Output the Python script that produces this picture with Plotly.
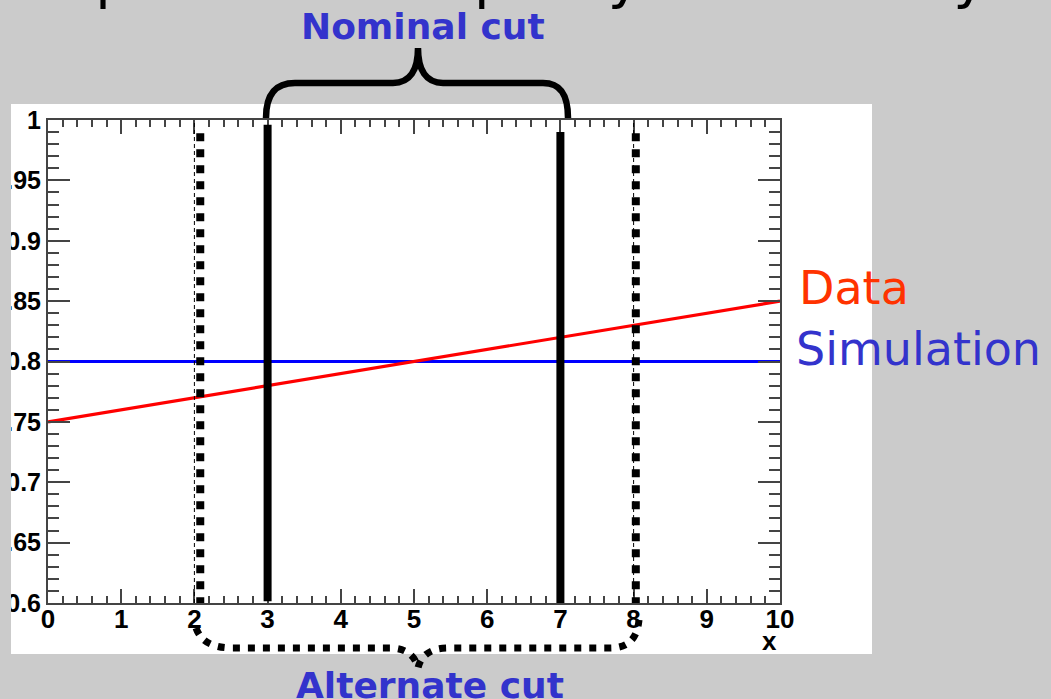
import plotly.graph_objects as go

# ---------------- data ----------------
x_vals = [0, 1, 2, 3, 4, 5, 6, 7, 8, 9, 10]
data_eff = [0.75, 0.76, 0.77, 0.78, 0.79, 0.80, 0.81, 0.82, 0.83, 0.84, 0.85]
sim_eff = [0.80, 0.80, 0.80, 0.80, 0.80, 0.80, 0.80, 0.80, 0.80, 0.80, 0.80]
nominal_cuts = [3.0, 7.0]
alternate_cuts = [2.0, 8.0]          # thin dashed reference lines
alternate_marks = [2.08, 8.03]       # thick dotted markers drawn on the slide
x_ticks = [0, 1, 2, 3, 4, 5, 6, 7, 8, 9, 10]
y_ticks = [0.6, 0.65, 0.7, 0.75, 0.8, 0.85, 0.9, 0.95, 1.0]
y_tick_text = ["0.6", "0.65", "0.7", "0.75", "0.8", "0.85", "0.9", "0.95", "1"]

# ---------------- layout geometry ----------------
W, H = 1051, 699
L, R, T, B = 48, 271, 120, 96
PW, PH = W - L - R, H - T - B


def px_x(px):
    return (px - L) / PW


def px_y(py):
    return (H - B - py) / PH


GRAY = "#cbcbcb"
AXC = "#444444"
BLUE_TXT = "#3333cc"

fig = go.Figure()
fig.add_trace(go.Scatter(x=x_vals, y=sim_eff, mode="lines",
                         line=dict(color="#0000ff", width=3), showlegend=False))
fig.add_trace(go.Scatter(x=x_vals, y=data_eff, mode="lines",
                         line=dict(color="#ff0000", width=3.2), showlegend=False))

shapes = []
# white panel of the pasted ROOT picture
shapes.append(dict(type="rect", xref="paper", yref="paper",
                   x0=px_x(11), x1=px_x(872), y0=px_y(654), y1=px_y(104),
                   fillcolor="white", line=dict(width=0), layer="below"))
# gray strip hiding the left part of the y labels
shapes.append(dict(type="rect", xref="paper", yref="paper",
                   x0=px_x(-5), x1=px_x(11), y0=px_y(705), y1=px_y(-5),
                   fillcolor=GRAY, line=dict(width=0), layer="above"))
# thin dashed lines at alternate cuts
for c in alternate_cuts:
    shapes.append(dict(type="line", xref="x", yref="y", x0=c, x1=c, y0=0.6, y1=1.0,
                       line=dict(color="black", width=1, dash="4px,3px"), layer="above"))
# thick dotted markers
for c in alternate_marks:
    shapes.append(dict(type="line", xref="x", yref="y", x0=c, x1=c, y0=0.989, y1=0.6,
                       line=dict(color="black", width=8, dash="8px,8px"), layer="above"))
# thick solid nominal cuts
shapes.append(dict(type="line", xref="x", yref="y", x0=nominal_cuts[0], x1=nominal_cuts[0],
                   y0=0.6015, y1=0.996, line=dict(color="black", width=8), layer="above"))
shapes.append(dict(type="line", xref="x", yref="y", x0=nominal_cuts[1], x1=nominal_cuts[1],
                   y0=0.5967, y1=0.990, line=dict(color="black", width=8), layer="above"))


def path_from_px(cmds):
    out = []
    for c in cmds:
        if isinstance(c, str):
            out.append(c)
        else:
            out.append(f"{px_x(c[0]):.5f},{px_y(c[1]):.5f}")
    return " ".join(out)


nominal_brace = path_from_px([
    "M", (266, 118), "C", (266, 95), (275, 83), (295, 83),
    "L", (393, 83), "C", (410, 83), (418, 70), (418, 48),
    "C", (418, 70), (426, 83), (443, 83),
    "L", (543, 83), "C", (561, 83), (568, 95), (568, 118)])
shapes.append(dict(type="path", xref="paper", yref="paper", path=nominal_brace,
                   line=dict(color="black", width=6.5), layer="above"))

alt_brace = path_from_px([
    "M", (196, 628), "C", (201, 642), (213, 648), (233, 648),
    "L", (390, 648), "C", (405, 648), (415, 655), (418, 668),
    "C", (421, 655), (431, 648), (448, 648),
    "L", (610, 648), "C", (627, 648), (637, 640), (639, 620)])
shapes.append(dict(type="path", xref="paper", yref="paper", path=alt_brace,
                   line=dict(color="black", width=7, dash="7px,8px"), layer="above"))

annotations = [
    dict(text="Nominal cut", xref="paper", yref="paper", x=px_x(423), y=px_y(27),
         xanchor="center", yanchor="middle", showarrow=False,
         font=dict(family="DejaVu Sans", size=36, color=BLUE_TXT, weight="bold")),
    dict(text="Alternate cut", xref="paper", yref="paper", x=px_x(430), y=px_y(685),
         xanchor="center", yanchor="middle", showarrow=False,
         font=dict(family="DejaVu Sans", size=36, color=BLUE_TXT, weight="bold")),
    dict(text="Data", xref="paper", yref="paper", x=px_x(797), y=px_y(288),
         xanchor="left", yanchor="middle", showarrow=False,
         font=dict(family="DejaVu Sans", size=46, color="#ff3300")),
    dict(text="Simulation", xref="paper", yref="paper", x=px_x(794), y=px_y(349),
         xanchor="left", yanchor="middle", showarrow=False,
         font=dict(family="DejaVu Sans", size=46, color=BLUE_TXT)),
    dict(text="x", xref="paper", yref="paper", x=px_x(779), y=px_y(641),
         xanchor="right", yanchor="middle", showarrow=False,
         font=dict(family="Liberation Sans", size=26, color="black", weight="bold")),
    dict(text="Example: effect of purity uncertainty", xref="paper", yref="paper",
         x=px_x(-67), y=px_y(12), xanchor="left", yanchor="bottom", showarrow=False,
         font=dict(family="DejaVu Sans", size=57, color="black")),
]

fig.update_layout(
    width=W, height=H,
    margin=dict(l=L, r=R, t=T, b=B, pad=0, autoexpand=False),
    paper_bgcolor=GRAY, plot_bgcolor="white",
    shapes=shapes, annotations=annotations, showlegend=False,
)
fig.update_xaxes(range=[0, 10], tickvals=x_ticks, ticks="inside", ticklen=14, tickwidth=1.5,
                 tickcolor=AXC, showline=True, linecolor=AXC, linewidth=2, mirror="ticks",
                 showgrid=False, zeroline=False, automargin=False, ticklabelstandoff=-8,
                 tickfont=dict(family="Liberation Sans", size=26, color="black", weight="bold"),
                 minor=dict(dtick=0.2, ticks="inside", ticklen=7, tickwidth=1.5, tickcolor=AXC,
                            showgrid=False))
fig.update_yaxes(range=[0.6, 1.0], tickvals=y_ticks, ticktext=y_tick_text, ticks="inside",
                 ticklen=22, tickwidth=1.5, tickcolor=AXC, showline=True, linecolor=AXC,
                 linewidth=2, mirror="ticks", showgrid=False, zeroline=False, automargin=False,
                 tickfont=dict(family="Liberation Sans", size=25, color="black", weight="bold"),
                 minor=dict(dtick=0.01, ticks="inside", ticklen=11, tickwidth=1.5, tickcolor=AXC,
                            showgrid=False))

fig.write_html("out.html", config={"displayModeBar": False},
               post_script="document.body.style.margin='0';document.body.style.overflow='hidden';")
